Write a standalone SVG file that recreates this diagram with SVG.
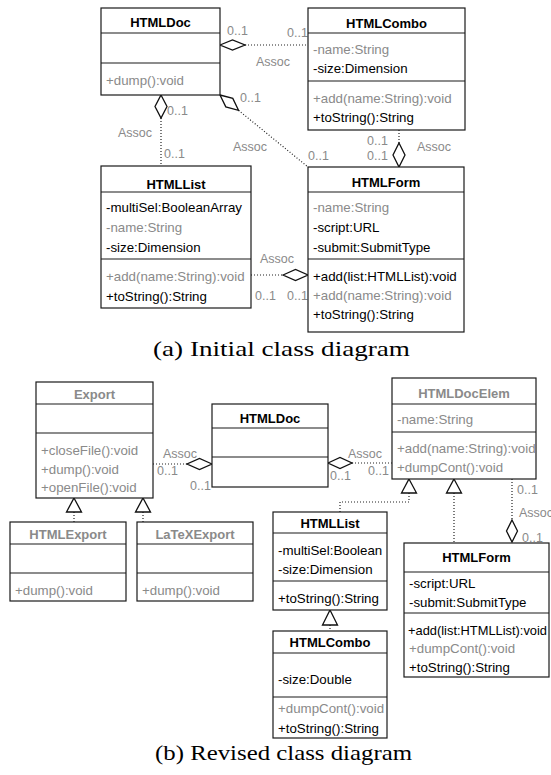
<svg xmlns="http://www.w3.org/2000/svg" width="551" height="775" viewBox="0 0 551 775">
<style>
.box{fill:#fff;stroke:#1a1a1a;stroke-width:1.2}
.sep{stroke:#1a1a1a;stroke-width:1.2}
text{font-family:"Liberation Sans",Arial,sans-serif;font-size:13.3px;fill:#000}
.g{fill:#8a8a8a}
.ti{font-weight:bold;font-size:13px;text-anchor:middle}
.lb{font-size:12.5px;fill:#8a8a8a}
.dot{stroke:#222;stroke-width:1.2;stroke-dasharray:1 2;fill:none}
.dia{fill:#fff;stroke:#111;stroke-width:1.3}
.cap{font-family:"Liberation Serif","Times New Roman",serif;font-size:22px;fill:#000}
</style>
<rect width="551" height="775" fill="#fff"/>

<!-- ===== (a) Initial ===== -->
<g id="connectors-a">
  <line class="dot" x1="245" y1="45" x2="308" y2="45"/>
  <polygon class="dia" points="220,45 232.5,40 245,45 232.5,50"/>
  <line class="dot" x1="161" y1="118" x2="161" y2="166"/>
  <polygon class="dia" points="161,95 167,106.5 161,118 155,106.5"/>
  <line class="dot" x1="238.5" y1="110.3" x2="308" y2="167"/>
  <polygon class="dia" points="220,95 232.8,98.4 238.5,110.3 225.8,106.9"/>
  <line class="dot" x1="399" y1="130" x2="399" y2="143"/>
  <polygon class="dia" points="399,143 405,155 399,167 393,155"/>
  <line class="dot" x1="251" y1="275" x2="283" y2="275"/>
  <polygon class="dia" points="283,275 295.5,269.5 308,275 295.5,280.5"/>
  <text class="lb" x="227" y="35">0..1</text>
  <text class="lb" x="287" y="37">0..1</text>
  <text class="lb" x="256" y="66">Assoc</text>
  <text class="lb" x="167" y="115">0..1</text>
  <text class="lb" x="118" y="137">Assoc</text>
  <text class="lb" x="164" y="158">0..1</text>
  <text class="lb" x="240" y="102">0..1</text>
  <text class="lb" x="233" y="151">Assoc</text>
  <text class="lb" x="308" y="160">0..1</text>
  <text class="lb" x="367" y="145">0..1</text>
  <text class="lb" x="367" y="160">0..1</text>
  <text class="lb" x="417" y="151">Assoc</text>
  <text class="lb" x="260" y="263">Assoc</text>
  <text class="lb" x="255" y="300">0..1</text>
  <text class="lb" x="287" y="300">0..1</text>
</g>

<g id="a-HTMLDoc">
  <rect class="box" x="101" y="8" width="119" height="87"/>
  <line class="sep" x1="101" y1="33" x2="220" y2="33"/>
  <line class="sep" x1="101" y1="63" x2="220" y2="63"/>
  <text class="ti" x="160.5" y="27">HTMLDoc</text>
  <text class="g" x="106" y="85">+dump():void</text>
</g>

<g id="a-HTMLCombo">
  <rect class="box" x="308" y="8" width="157" height="122"/>
  <line class="sep" x1="308" y1="33" x2="465" y2="33"/>
  <line class="sep" x1="308" y1="81" x2="465" y2="81"/>
  <text class="ti" x="386.5" y="28">HTMLCombo</text>
  <text class="g" x="313" y="54">-name:String</text>
  <text x="313" y="73">-size:Dimension</text>
  <text class="g" x="313" y="103">+add(name:String):void</text>
  <text x="313" y="122">+toString():String</text>
</g>

<g id="a-HTMLList">
  <rect class="box" x="101" y="166" width="150" height="142"/>
  <line class="sep" x1="101" y1="192" x2="251" y2="192"/>
  <line class="sep" x1="101" y1="259" x2="251" y2="259"/>
  <text class="ti" x="176" y="189">HTMLList</text>
  <text x="106" y="212">-multiSel:BooleanArray</text>
  <text class="g" x="106" y="232">-name:String</text>
  <text x="106" y="252">-size:Dimension</text>
  <text class="g" x="106" y="281">+add(name:String):void</text>
  <text x="106" y="301">+toString():String</text>
</g>

<g id="a-HTMLForm">
  <rect class="box" x="308" y="167" width="156" height="165"/>
  <line class="sep" x1="308" y1="192" x2="464" y2="192"/>
  <line class="sep" x1="308" y1="259" x2="464" y2="259"/>
  <text class="ti" x="386" y="187">HTMLForm</text>
  <text class="g" x="313" y="212">-name:String</text>
  <text x="313" y="232">-script:URL</text>
  <text x="313" y="252">-submit:SubmitType</text>
  <text x="313" y="281">+add(list:HTMLList):void</text>
  <text class="g" x="313" y="300">+add(name:String):void</text>
  <text x="313" y="319">+toString():String</text>
</g>

<text class="cap" x="153" y="356" textLength="257" lengthAdjust="spacingAndGlyphs">(a) Initial class diagram</text>

<!-- ===== (b) Revised ===== -->
<g id="connectors-b">
  <line class="dot" x1="74" y1="512" x2="74" y2="522"/>
  <polygon class="dia" points="74,498 81.5,512 66.5,512"/>
  <line class="dot" x1="143" y1="512" x2="143" y2="522"/>
  <polygon class="dia" points="143,498 150.5,512 135.5,512"/>
  <line class="dot" x1="153" y1="464" x2="187" y2="464"/>
  <polygon class="dia" points="212,464 199.5,458.5 187,464 199.5,469.5"/>
  <line class="dot" x1="352" y1="463" x2="392" y2="463"/>
  <polygon class="dia" points="328,463 340,457.5 352,463 340,468.5"/>
  <polyline class="dot" points="409,493 409,502 340,502 340,512"/>
  <polygon class="dia" points="409,479 416.5,493 401.5,493"/>
  <line class="dot" x1="454" y1="493" x2="454" y2="543"/>
  <polygon class="dia" points="454,479 461.5,493 446.5,493"/>
  <line class="dot" x1="512" y1="479" x2="512" y2="520"/>
  <polygon class="dia" points="512,520 517.5,531 512,542 506.5,531"/>
  <line class="dot" x1="330" y1="625" x2="330" y2="631"/>
  <polygon class="dia" points="330,610 337.5,625 322.5,625"/>
  <text class="lb" x="163" y="458">Assoc</text>
  <text class="lb" x="157" y="475">0..1</text>
  <text class="lb" x="190" y="490">0..1</text>
  <text class="lb" x="348" y="458">Assoc</text>
  <text class="lb" x="330" y="480">0..1</text>
  <text class="lb" x="368" y="475">0..1</text>
  <text class="lb" x="517" y="494">0..1</text>
  <text class="lb" x="519" y="517">Assoc</text>
  <text class="lb" x="522" y="542">0..1</text>
</g>

<g id="b-Export">
  <rect class="box" x="36" y="382" width="117" height="116"/>
  <line class="sep" x1="36" y1="404" x2="153" y2="404"/>
  <line class="sep" x1="36" y1="433" x2="153" y2="433"/>
  <text class="ti g" x="94.5" y="399">Export</text>
  <text class="g" x="41" y="455">+closeFile():void</text>
  <text class="g" x="41" y="474">+dump():void</text>
  <text class="g" x="41" y="492">+openFile():void</text>
</g>

<g id="b-HTMLExport">
  <rect class="box" x="10" y="522" width="116" height="79"/>
  <line class="sep" x1="10" y1="544" x2="126" y2="544"/>
  <line class="sep" x1="10" y1="573" x2="126" y2="573"/>
  <text class="ti g" x="68" y="539">HTMLExport</text>
  <text class="g" x="15" y="595">+dump():void</text>
</g>

<g id="b-LaTeXExport">
  <rect class="box" x="137" y="522" width="116" height="79"/>
  <line class="sep" x1="137" y1="544" x2="253" y2="544"/>
  <line class="sep" x1="137" y1="573" x2="253" y2="573"/>
  <text class="ti g" x="195" y="539">LaTeXExport</text>
  <text class="g" x="142" y="595">+dump():void</text>
</g>

<g id="b-HTMLDoc">
  <rect class="box" x="212" y="404" width="116" height="83"/>
  <line class="sep" x1="212" y1="428" x2="328" y2="428"/>
  <line class="sep" x1="212" y1="457" x2="328" y2="457"/>
  <text class="ti" x="270" y="423">HTMLDoc</text>
</g>

<g id="b-HTMLDocElem">
  <rect class="box" x="392" y="378" width="144" height="101"/>
  <line class="sep" x1="392" y1="404" x2="536" y2="404"/>
  <line class="sep" x1="392" y1="432" x2="536" y2="432"/>
  <text class="ti g" x="464" y="398">HTMLDocElem</text>
  <text class="g" x="397" y="424">-name:String</text>
  <text class="g" x="397" y="453">+add(name:String):void</text>
  <text class="g" x="397" y="472">+dumpCont():void</text>
</g>

<g id="b-HTMLList">
  <rect class="box" x="273" y="512" width="114" height="98"/>
  <line class="sep" x1="273" y1="533" x2="387" y2="533"/>
  <line class="sep" x1="273" y1="581" x2="387" y2="581"/>
  <text class="ti" x="330" y="528">HTMLList</text>
  <text x="278" y="555">-multiSel:Boolean</text>
  <text x="278" y="574">-size:Dimension</text>
  <text x="278" y="603">+toString():String</text>
</g>

<g id="b-HTMLCombo">
  <rect class="box" x="273" y="631" width="114" height="107"/>
  <line class="sep" x1="273" y1="653" x2="387" y2="653"/>
  <line class="sep" x1="273" y1="697" x2="387" y2="697"/>
  <text class="ti" x="330" y="647">HTMLCombo</text>
  <text x="278" y="684">-size:Double</text>
  <text class="g" x="278" y="713">+dumpCont():void</text>
  <text x="278" y="733">+toString():String</text>
</g>

<g id="b-HTMLForm">
  <rect class="box" x="404" y="543" width="145" height="134"/>
  <line class="sep" x1="404" y1="572" x2="549" y2="572"/>
  <line class="sep" x1="404" y1="613" x2="549" y2="613"/>
  <text class="ti" x="476.5" y="562">HTMLForm</text>
  <text x="409" y="588">-script:URL</text>
  <text x="409" y="607">-submit:SubmitType</text>
  <text x="408" y="635" textLength="139" lengthAdjust="spacingAndGlyphs">+add(list:HTMLList):void</text>
  <text class="g" x="409" y="653">+dumpCont():void</text>
  <text x="409" y="672">+toString():String</text>
</g>

<text class="cap" x="155" y="760" textLength="257" lengthAdjust="spacingAndGlyphs">(b) Revised class diagram</text>
</svg>
